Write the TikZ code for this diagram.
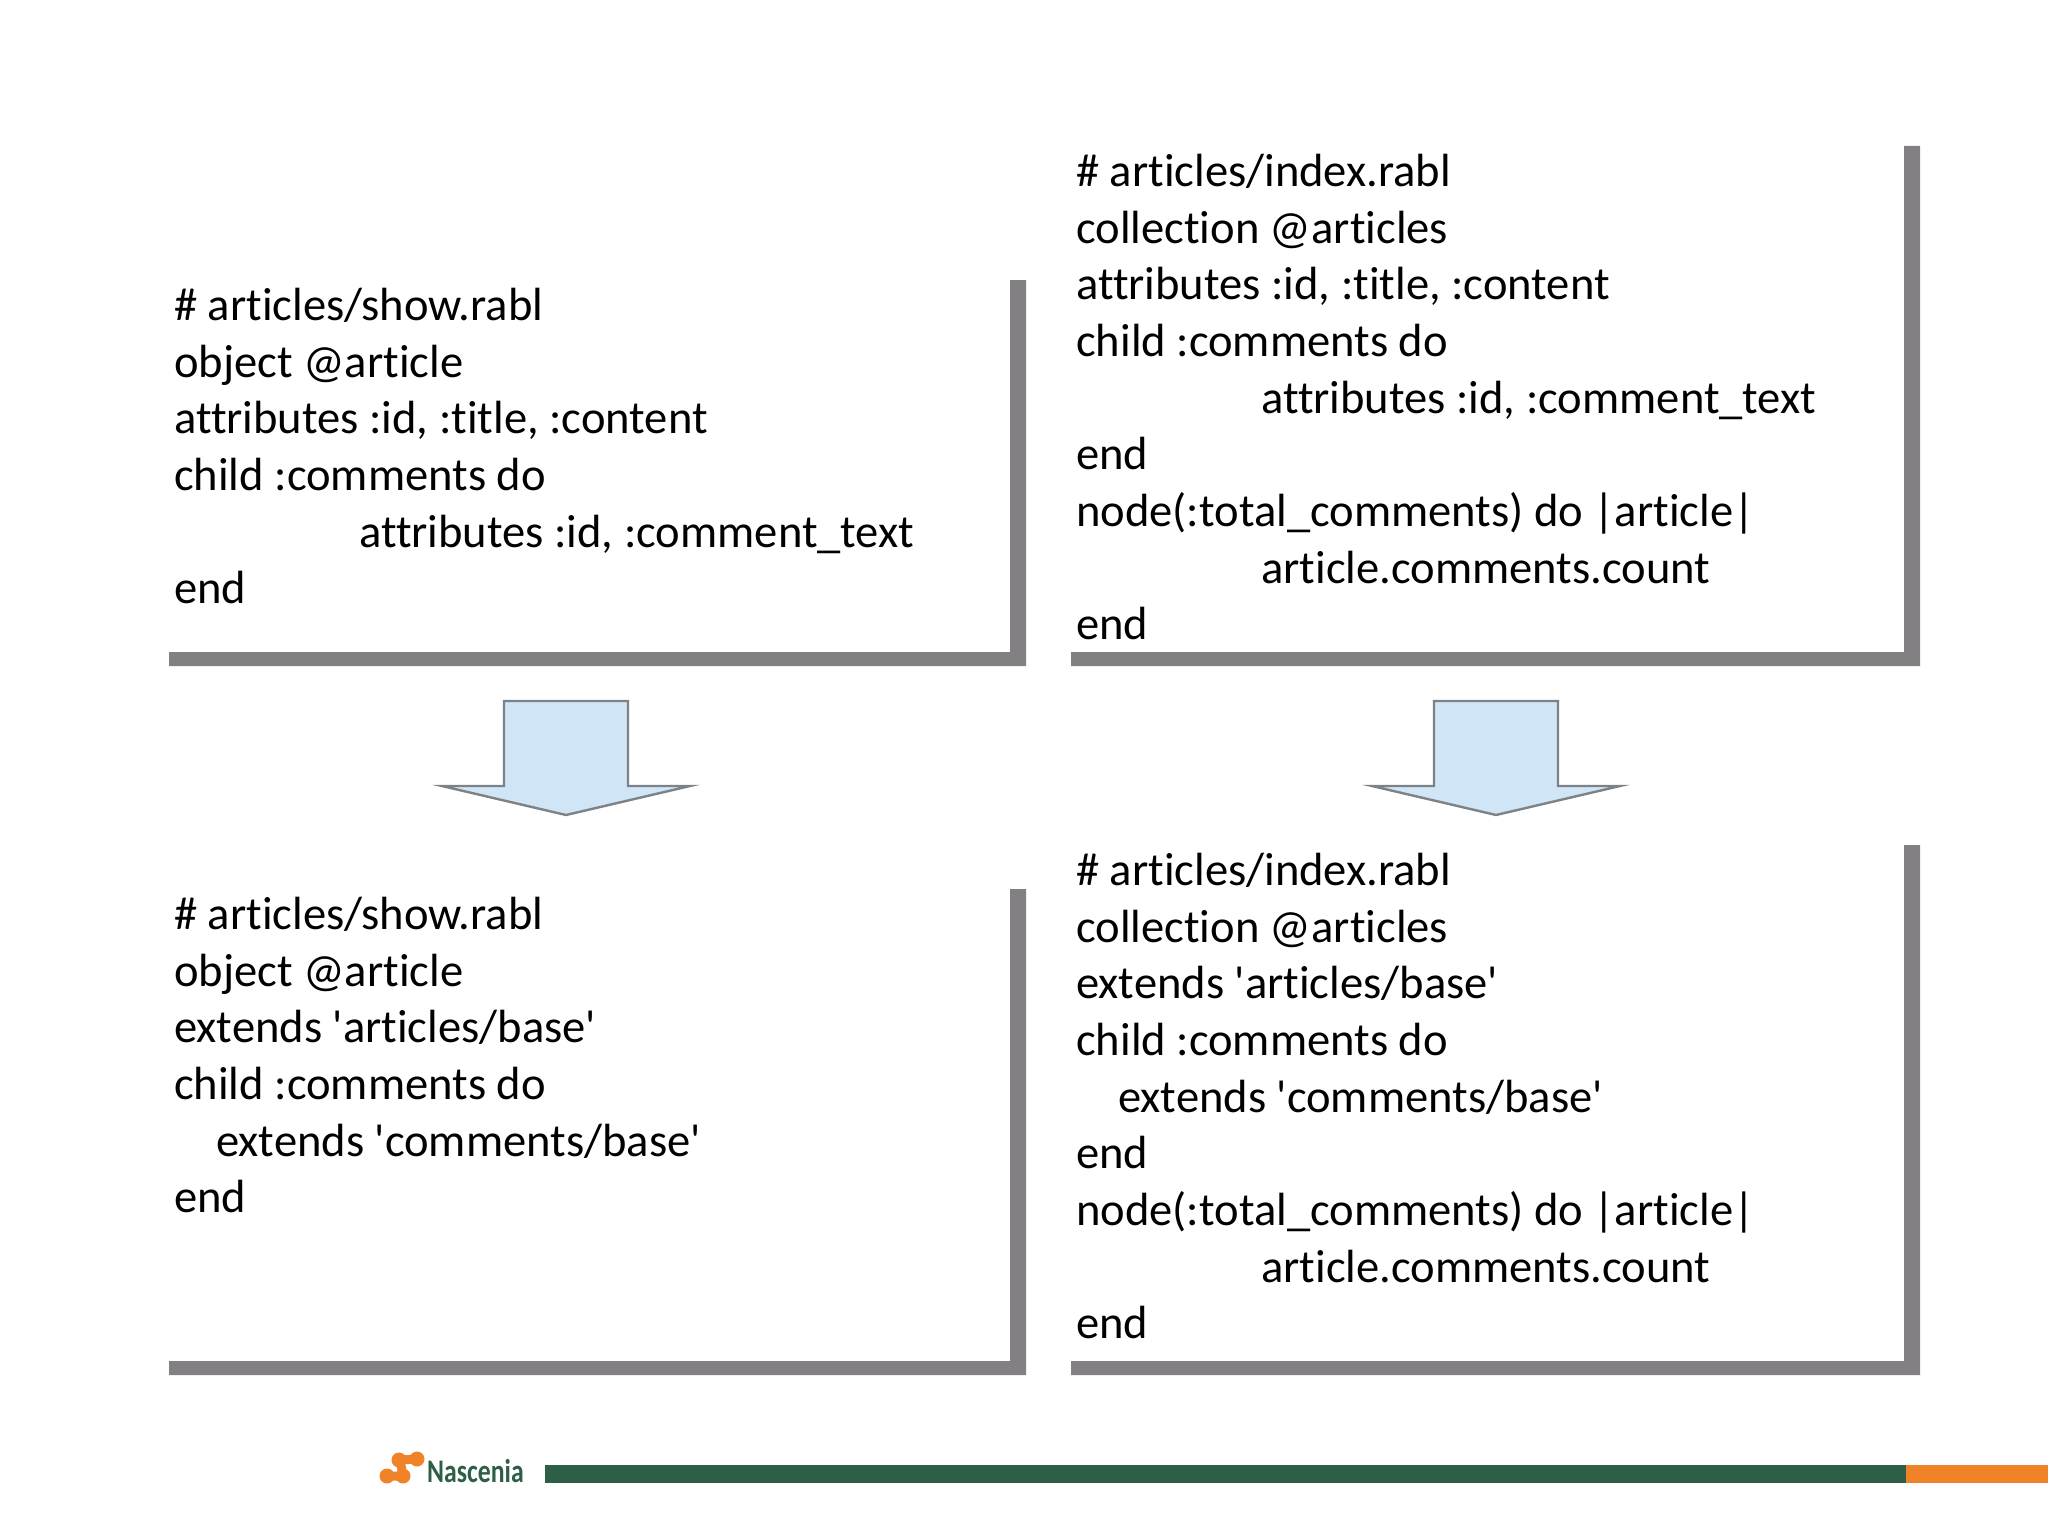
\documentclass[tikz,border=0pt]{standalone}
\usepackage{fontspec}
\newfontfamily\codefont{Carlito}[Ligatures=NoCommon]
\newfontfamily\logofont{Carlito}[FakeStretch=0.78]
\definecolor{framegray}{RGB}{130,128,130}
\definecolor{arrowblue}{RGB}{208,229,245}
\definecolor{arrowedge}{RGB}{125,130,135}
\definecolor{footgreen}{RGB}{45,95,70}
\definecolor{footorange}{RGB}{240,130,40}
\usetikzlibrary{positioning}
\tikzset{
  code/.style = {anchor=north west, inner sep=0pt, align=left,
                 font=\codefont\fontsize{46.55}{56.65}\selectfont, text=black},
  frame/.style = {fill=framegray, draw=none},
  blockarrow/.style = {fill=arrowblue, draw=arrowedge, line width=2.4pt, miter limit=20}
}
\newcommand{\deep}{\hspace*{185pt}}
\newcommand{\slight}{\hspace*{42pt}}
\begin{document}
\begin{tikzpicture}[x=1pt,y=-1pt]
  \useasboundingbox (0,0) rectangle (2048,1536);
  % frames
  \fill[frame] (1010,280) -- (1026,280) -- (1026,666) -- (169,666) -- (169,652) -- (1010,652) -- cycle;
  \fill[frame] (1904,146) -- (1920,146) -- (1920,666) -- (1071,666) -- (1071,652) -- (1904,652) -- cycle;
  \fill[frame] (1010,889) -- (1026,889) -- (1026,1375) -- (169,1375) -- (169,1361) -- (1010,1361) -- cycle;
  \fill[frame] (1904,845) -- (1920,845) -- (1920,1375) -- (1071,1375) -- (1071,1361) -- (1904,1361) -- cycle;
  % code blocks
  \node[code] (showold) at (174,288) {\# articles/show.rabl\\
    object @article\\
    attributes :id, :title, :content\\
    child :comments do\\
    \deep attributes :id, :comment\_text\\
    end};
  \node[code] (indexold) at (1076,154) {\# articles/index.rabl\\
    collection @articles\\
    attributes :id, :title, :content\\
    child :comments do\\
    \deep attributes :id, :comment\_text\\
    end\\
    node(:total\_comments) do |article|\\
    \deep article.comments.count\\
    end};
  \node[code] (shownew) at (174,897) {\# articles/show.rabl\\
    object @article\\
    extends 'articles/base'\\
    child :comments do\\
    \slight extends 'comments/base'\\
    end};
  \node[code] (indexnew) at (1076,853) {\# articles/index.rabl\\
    collection @articles\\
    extends 'articles/base'\\
    child :comments do\\
    \slight extends 'comments/base'\\
    end\\
    node(:total\_comments) do |article|\\
    \deep article.comments.count\\
    end};
  % arrows
  \foreach \cx in {566,1496}{
    \draw[blockarrow] (\cx-62,701) -- (\cx+62,701) -- (\cx+62,786) -- (\cx+124,786)
      -- (\cx,815) -- (\cx-124,786) -- (\cx-62,786) -- cycle;
  }
  % footer
  \fill[footgreen] (545,1465) rectangle (1906,1483);
  \fill[footorange] (1906,1465) rectangle (2048,1483);
  \draw[footorange, line width=9pt, line cap=round, line join=round]
    (387,1476) -- (403,1476) -- (400,1460) -- (417,1459);
  \foreach \bx/\by in {387/1476,403/1476,399/1460,417/1459}{
    \fill[footorange] (\bx,\by) circle (7.5);
  }
  \node[inner sep=0pt, anchor=west, text=footgreen, font=\logofont\fontsize{33}{33}\selectfont\bfseries] (logo) at (427,1471) {Nascenia};
\end{tikzpicture}
\end{document}
